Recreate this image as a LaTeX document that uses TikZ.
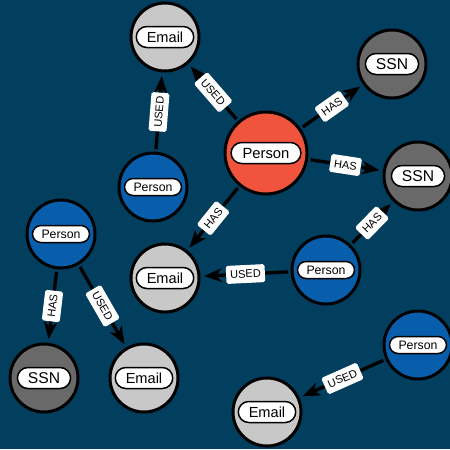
\documentclass[tikz,border=0pt]{standalone}
\usepackage{fontspec}
\setmainfont{Liberation Sans}
\usepackage{tikz}
\usetikzlibrary{positioning}
\usetikzlibrary{arrows.meta}
\usepackage{xcolor}
\definecolor{bgblue}{RGB}{2,62,94}
\definecolor{personred}{RGB}{240,84,60}
\definecolor{personblue}{RGB}{8,94,170}
\definecolor{emailgray}{RGB}{200,200,200}
\definecolor{ssngray}{RGB}{105,105,105}

\begin{document}
\begin{tikzpicture}
[x=0.2mm, y=-0.2mm,
% The entity style is used for every circle of the graph
entity/.style={circle, draw, line width=1.7pt, inner sep=0pt, minimum size=13.6mm},
% The tag style is used to write the name inside each circle
tag/.style={draw, fill=white, line width=0.85pt, rounded corners=2.1mm, minimum height=4.2mm, inner xsep=2.1mm, inner ysep=0pt, font=\fontsize{8.3}{9}\selectfont},
smalltag/.style={tag, rounded corners=1.7mm, minimum height=3.4mm, inner xsep=1.8mm, font=\fontsize{7}{8}\selectfont},
person/.style={entity, fill=personblue, label={[smalltag]center:Person}},
mainperson/.style={entity, fill=personred, minimum size=16.4mm, label={[tag, inner xsep=2.3mm, font=\fontsize{8.4}{9}\selectfont]center:Person}},
email/.style={entity, fill=emailgray, label={[tag]center:Email}},
ssn/.style={entity, fill=ssngray, label={[tag, font=\fontsize{8.9}{10}\selectfont]center:SSN}},
% The link style is used for the arrows
link/.style={-{Stealth[length=3.5mm,width=2.7mm,inset=1mm]}, line width=1.9pt, shorten >=0.7mm, shorten <=0.5mm},
% The rel style is used to write the name of each relation
rel/.style={fill=white, rounded corners=1pt, inner xsep=0.8mm, inner ysep=0pt, minimum height=3.6mm, sloped, font=\fontsize{6.3}{7}\selectfont}
]
\useasboundingbox (0,0) rectangle (450,449);
\fill[bgblue] (0,0) rectangle (450,449);
% Draw entities
\node[mainperson] (p0) at (266,153) {};
\node[email] (e1) at (165,37) {};
\node[ssn] (s1) at (392,64) {};
\node[person] (p1) at (153,187) {};
\node[ssn] (s2) at (418,176) {};
\node[person] (p2) at (326,270) {};
\node[email] (e2) at (165,278) {};
\node[person] (p3) at (61,234) {};
\node[ssn] (s3) at (44,378) {};
\node[email] (e3) at (144,378) {};
\node[person] (p4) at (418,345) {};
\node[email] (e4) at (267,412) {};
% Draw relations
\draw[link] (p0) -- node[rel]{USED} (e1);
\draw[link] (p1) -- node[rel]{USED} (e1);
\draw[link] (p0) -- node[rel]{HAS} (s1);
\draw[link] (p0) -- node[rel]{HAS} (s2);
\draw[link] (p0) -- node[rel]{HAS} (e2);
\draw[link] (p2) -- node[rel]{HAS} (s2);
\draw[link] (p2) -- node[rel]{USED} (e2);
\draw[link] (p3) -- node[rel]{HAS} (s3);
\draw[link] (p3) -- node[rel]{USED} (e3);
\draw[link] (p4) -- node[rel]{USED} (e4);
\end{tikzpicture}
\end{document}
